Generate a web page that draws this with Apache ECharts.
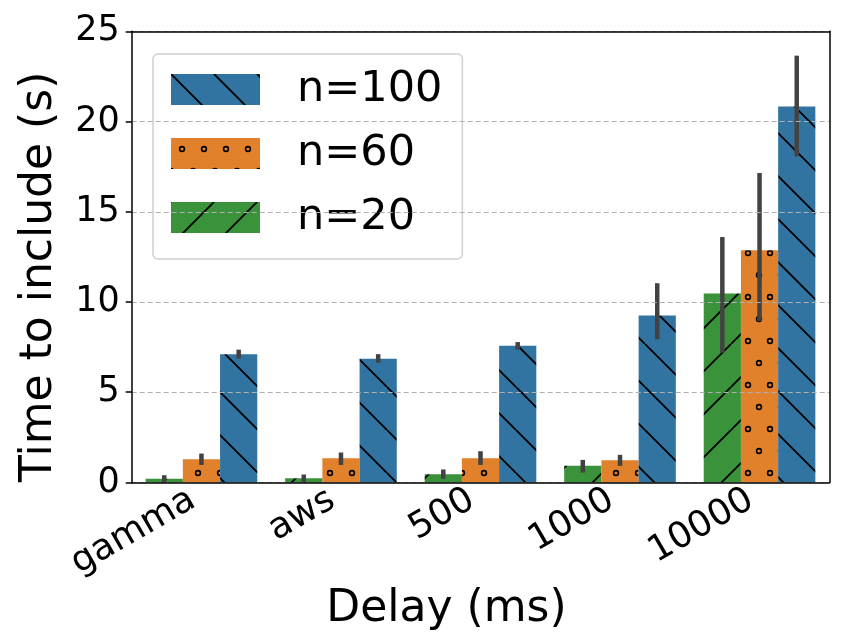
<!DOCTYPE html>
<html>
<head>
    <meta charset="utf-8">
    <title>Time to include</title>
    <script src="https://cdn.jsdelivr.net/npm/echarts@6/dist/echarts.min.js"></script>
    <style>
        html, body { margin: 0; padding: 0; background: #fff; }
        #chart { width: 849px; height: 637px; }
    </style>
</head>
<body>
<div id="chart"></div>
<script>
    // data
    var categories = ['gamma', 'aws', '500', '1000', '10000'];
    var n20 = [0.2, 0.24, 0.46, 0.92, 10.47];
    var n20Low = [0.0, 0.0, 0.2, 0.55, 7.19];
    var n20High = [0.4, 0.44, 0.72, 1.25, 13.6];
    var n60 = [1.29, 1.34, 1.34, 1.23, 12.87];
    var n60Low = [0.97, 0.97, 0.97, 0.92, 8.94];
    var n60High = [1.6, 1.66, 1.73, 1.53, 17.15];
    var n100 = [7.1, 6.86, 7.58, 9.25, 20.83];
    var n100Low = [6.86, 6.64, 7.36, 7.93, 18.07];
    var n100High = [7.36, 7.11, 7.78, 11.04, 23.65];
    var yTicks = [0, 5, 10, 15, 20, 25];

    var FONT = 'DejaVu Sans';

    // hatch patterns, like matplotlib's '/', '\\' and 'o'
    function linePattern(bg, dir) {
        var s = 43;
        var c = document.createElement('canvas');
        c.width = s; c.height = s;
        var g = c.getContext('2d');
        g.fillStyle = bg;
        g.fillRect(0, 0, s, s);
        g.strokeStyle = '#000';
        g.lineWidth = 1.8;
        g.beginPath();
        for (var k = -1; k <= 1; k++) {
            if (dir === 'back') {
                g.moveTo(0, k * s); g.lineTo(s, s + k * s);
            } else {
                g.moveTo(0, s + k * s); g.lineTo(s, k * s);
            }
        }
        g.stroke();
        return {image: c, repeat: 'repeat'};
    }

    function dotPattern(bg) {
        var w = 22, h = 44;
        var c = document.createElement('canvas');
        c.width = w; c.height = h;
        var g = c.getContext('2d');
        g.fillStyle = bg;
        g.fillRect(0, 0, w, h);
        g.strokeStyle = '#000';
        g.lineWidth = 1.6;
        [[11, 11], [0, 33], [22, 33]].forEach(function (p) {
            g.beginPath();
            g.arc(p[0], p[1], 2.4, 0, Math.PI * 2);
            g.stroke();
        });
        return {image: c, repeat: 'repeat'};
    }

    var greenFill = linePattern('#3a923a', 'fwd');
    var orangeFill = dotPattern('#e1812c');
    var blueFill = linePattern('#3274a1', 'back');

    function errData(lo, hi) {
        return categories.map(function (c, i) { return [i, lo[i], hi[i]]; });
    }

    function errSeries(name, idx, lo, hi) {
        return {
            name: name + ' err',
            type: 'custom',
            z: 5,
            data: errData(lo, hi),
            encode: {x: 0, y: [1, 2]},
            renderItem: function (params, api) {
                var x = api.value(0);
                var a = api.coord([x, api.value(1)]);
                var b = api.coord([x, api.value(2)]);
                var band = api.size([1, 0])[0];
                var off = (idx - 1) * band * 0.8 / 3;
                return {
                    type: 'line',
                    shape: {x1: a[0] + off, y1: a[1], x2: b[0] + off, y2: b[1]},
                    style: {stroke: '#424242', lineWidth: 4.5}
                };
            }
        };
    }

    var spine = {show: true, onZero: false, lineStyle: {color: '#000', width: 1.5}};

    var chart = echarts.init(document.getElementById('chart'));
    chart.setOption({
        animation: false,
        backgroundColor: '#fff',
        textStyle: {fontFamily: FONT},
        grid: {left: 131.7, right: 19.7, top: 31.3, bottom: 153.7},
        legend: {
            data: ['n=100', 'n=60', 'n=20'],
            orient: 'vertical',
            left: 153, top: 54,
            padding: [14, 20, 20, 18],
            itemWidth: 89, itemHeight: 31,
            itemGap: 21,
            backgroundColor: 'rgba(255,255,255,0.8)',
            borderColor: '#d0d0d0', borderWidth: 1.5, borderRadius: 5,
            icon: 'rect',
            textStyle: {fontSize: 43, color: '#000', fontFamily: FONT, padding: [0, 0, 0, 32]}
        },
        xAxis: [{
            type: 'category',
            data: categories,
            name: 'Delay (ms)',
            nameLocation: 'middle',
            nameGap: 90,
            nameTextStyle: {fontSize: 44, color: '#000', fontFamily: FONT, padding: [0, 68, 0, 0]},
            axisLine: spine,
            axisTick: {alignWithLabel: true, length: 6, lineStyle: {color: '#000', width: 1.5}},
            axisLabel: {rotate: 30, fontSize: 36, color: '#000', fontFamily: FONT, margin: 10,
                padding: [0, 10, 0, 0]},
            splitLine: {show: false},
            z: 10
        }, {
            type: 'category',
            data: categories,
            position: 'top',
            axisLine: spine,
            axisTick: {show: false},
            axisLabel: {show: false},
            splitLine: {show: false},
            z: 20
        }],
        yAxis: [{
            type: 'value',
            min: yTicks[0], max: yTicks[yTicks.length - 1], interval: 5,
            name: 'Time to include (s)',
            nameLocation: 'middle',
            nameRotate: 90,
            nameGap: 70,
            nameTextStyle: {fontSize: 44, color: '#000', fontFamily: FONT, padding: [0, 40, 0, 0]},
            axisLine: spine,
            axisTick: {show: true, length: 6, lineStyle: {color: '#000', width: 1.5}},
            axisLabel: {fontSize: 35, color: '#000', fontFamily: FONT, margin: 12},
            splitLine: {show: true, lineStyle: {color: '#b0b0b0', type: [5, 3], width: 1.2}},
            z: 10
        }, {
            type: 'value',
            min: yTicks[0], max: yTicks[yTicks.length - 1], interval: 5,
            position: 'right',
            axisLine: spine,
            axisTick: {show: false},
            axisLabel: {show: false},
            splitLine: {show: false},
            z: 20
        }],
        series: [
            {name: 'n=20', type: 'bar', data: n20, barGap: '0%', barCategoryGap: '20%',
                itemStyle: {color: greenFill}},
            {name: 'n=60', type: 'bar', data: n60, barGap: '0%', barCategoryGap: '20%',
                itemStyle: {color: orangeFill}},
            {name: 'n=100', type: 'bar', data: n100, barGap: '0%', barCategoryGap: '20%',
                itemStyle: {color: blueFill}},
            errSeries('n=20', 0, n20Low, n20High),
            errSeries('n=60', 1, n60Low, n60High),
            errSeries('n=100', 2, n100Low, n100High)
        ]
    });
</script>
</body>
</html>
